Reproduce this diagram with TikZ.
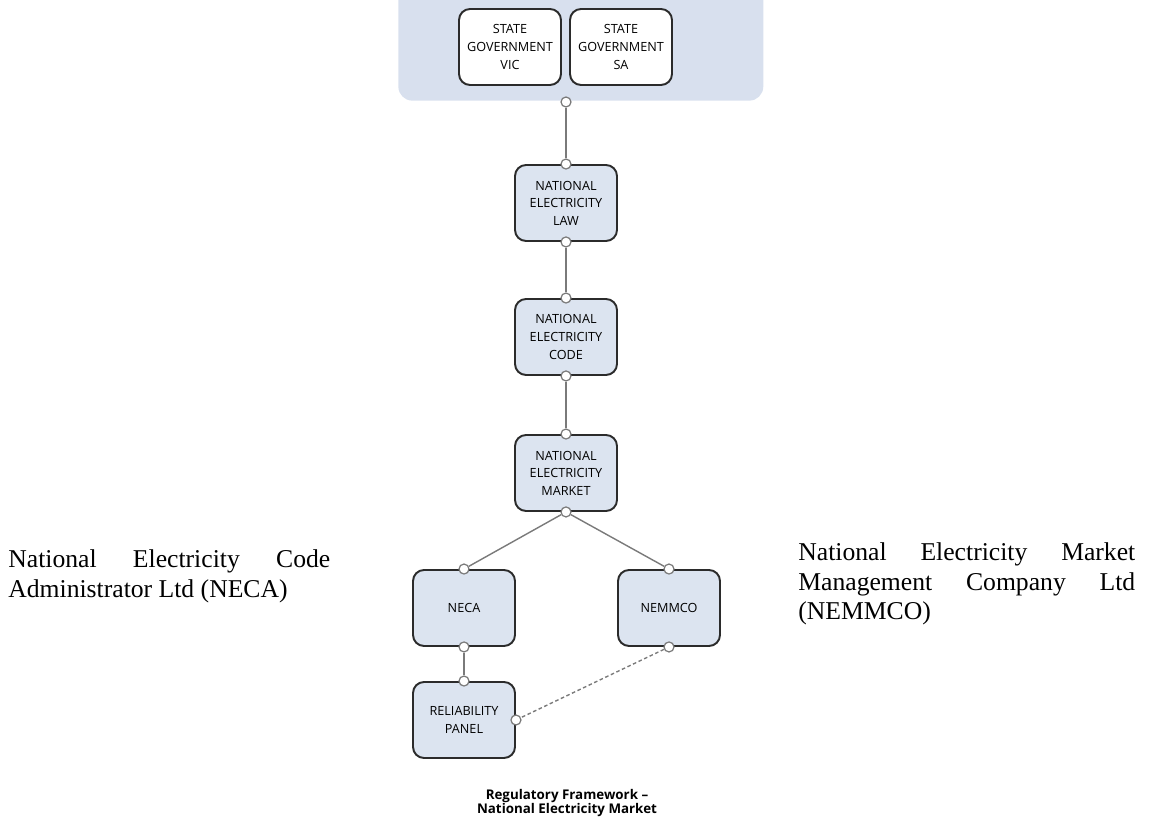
\documentclass[tikz,border=0pt]{standalone}
\usepackage{fontspec}
\setmainfont{Liberation Serif}
\newfontfamily\boxfont{Open Sans}
\usepackage{tikz}

\definecolor{bandblue}{HTML}{D8E0EE}
\definecolor{boxblue}{HTML}{DCE4F0}
\definecolor{boxline}{HTML}{2B2B2B}
\definecolor{linegrey}{HTML}{7A7A7A}

\begin{document}
\begin{tikzpicture}[x=0.02cm,y=-0.02cm,
	unit/.style={draw=boxline,line width=1.1pt,rounded corners=0.22cm,fill=boxblue,
		minimum width=2.04cm,minimum height=1.52cm,align=center,inner sep=0pt,
		font=\boxfont\fontsize{7.2}{10}\selectfont},
	govunit/.style={unit,fill=white},
	band/.style={fill=bandblue,rounded corners=0.28cm,inner sep=0pt},
	port/.style={circle,draw=linegrey,fill=white,line width=0.7pt,minimum size=0.2cm,inner sep=0pt},
	link/.style={draw=linegrey,line width=0.8pt},
	sidetext/.style={anchor=base west,inner sep=0pt,font=\fontsize{14.6}{16.6}\selectfont},
	caption/.style={align=center,inner sep=0pt,font=\boxfont\bfseries\fontsize{7.6}{8.4}\selectfont}]
	\useasboundingbox (0,0) rectangle (1150,830);
	% governments
	\node[band,anchor=south west,minimum width=7.3cm,minimum height=3cm] (band) at (398,101) {};
	\node[govunit] (vic) at (510,47) {STATE\\GOVERNMENT\\VIC};
	\node[govunit] (sa) at (621,47) {STATE\\GOVERNMENT\\SA};
	% main chain
	\node[unit] (law) at (566,203) {NATIONAL\\ELECTRICITY\\LAW};
	\node[unit] (code) at (566,337) {NATIONAL\\ELECTRICITY\\CODE};
	\node[unit] (market) at (566,473) {NATIONAL\\ELECTRICITY\\MARKET};
	\node[unit] (neca) at (464,608) {NECA};
	\node[unit] (nemmco) at (669,608) {NEMMCO};
	\node[unit] (panel) at (464,720) {RELIABILITY\\PANEL};
	% ports
	\node[port] (band-s) at (566,102) {};
	\node[port] (law-n) at (law.north) {};
	\node[port] (law-s) at (law.south) {};
	\node[port] (code-n) at (code.north) {};
	\node[port] (code-s) at (code.south) {};
	\node[port] (market-n) at (market.north) {};
	\node[port] (market-s) at (market.south) {};
	\node[port] (neca-n) at (neca.north) {};
	\node[port] (neca-s) at (neca.south) {};
	\node[port] (nemmco-n) at (nemmco.north) {};
	\node[port] (nemmco-s) at (nemmco.south) {};
	\node[port] (panel-n) at (panel.north) {};
	\node[port] (panel-e) at (panel.east) {};
	\path[link]
	(band-s) edge (law-n)
	(law-s) edge (code-n)
	(code-s) edge (market-n)
	(market-s) edge (neca-n)
	(market-s) edge (nemmco-n)
	(neca-s) edge (panel-n);
	\path[link,dash pattern=on 2pt off 1.5pt] (nemmco-s) edge (panel-e);
	% texts
	\node[sidetext] (necatext) at (8,568) {\parbox[t]{6.44cm}{National Electricity Code\linebreak Administrator Ltd (NECA)}};
	\node[sidetext] (nemmcotext) at (798,561) {\parbox[t]{6.74cm}{National Electricity Market\linebreak Management Company Ltd\linebreak (NEMMCO)}};
	\node[caption] (title) at (567,803) {Regulatory Framework –\\National Electricity Market};
\end{tikzpicture}
\end{document}
